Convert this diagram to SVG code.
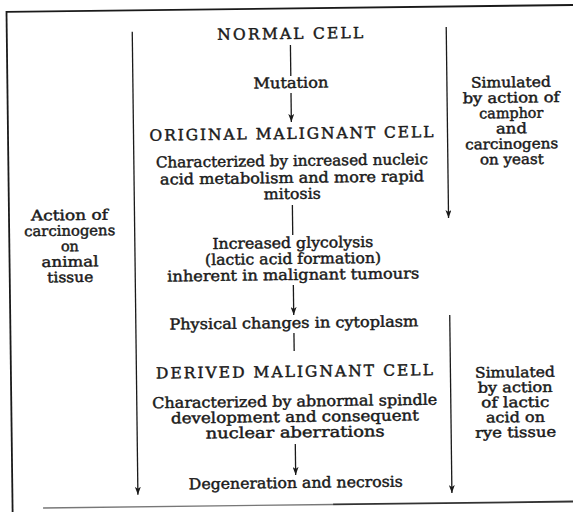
<svg xmlns="http://www.w3.org/2000/svg" width="573" height="512" viewBox="0 0 573 512">
<defs>
<marker id="ah" markerWidth="8" markerHeight="6" refX="8" refY="3" orient="auto" markerUnits="userSpaceOnUse" viewBox="0 0 8 6">
<path d="M0,0 L8,3 L0,6 L2,3 Z" fill="#1a1a1a"/>
</marker>
<style>
text{font-family:"DejaVu Serif","Liberation Serif",serif;font-size:15px;fill:#1a1a1a;text-anchor:middle;stroke:#1a1a1a;stroke-width:0.45}
.cap{font-size:15.5px}
.side{font-size:14.5px}
.frame{stroke:#1a1a1a;stroke-width:1.8;fill:none}
.ln{stroke:#1a1a1a;stroke-width:1.3;fill:none}
.arr{stroke:#1a1a1a;stroke-width:1.3;fill:none;marker-end:url(#ah)}
</style>
</defs>
<rect x="0" y="0" width="573" height="512" fill="#ffffff"/>
<g transform="rotate(-0.7 286 256)">
<g id="frame">
<line class="frame" x1="9.5" y1="8.5" x2="585" y2="8.5"/>
<line class="frame" x1="9.5" y1="7.6" x2="9.5" y2="520"/>
<line x1="40" y1="505" x2="330" y2="505" stroke="#777" stroke-width="1.4"/>
<line x1="330" y1="505" x2="585" y2="505" stroke="#333" stroke-width="1.8"/>
</g>
<g id="connectors">
<line class="ln" x1="293" y1="45" x2="293" y2="76"/>
<line class="arr" x1="293" y1="93" x2="293" y2="122"/>
<line class="ln" x1="293" y1="205" x2="293" y2="235"/>
<line class="arr" x1="293" y1="285" x2="293" y2="315"/>
<line class="ln" x1="293" y1="333" x2="293" y2="351"/>
<line class="arr" x1="293" y1="444" x2="293" y2="475"/>
<line class="arr" x1="135" y1="30" x2="135" y2="493"/>
<line class="arr" x1="449" y1="29" x2="449" y2="220"/>
<line class="arr" x1="449" y1="317" x2="449" y2="495"/>
</g>
<g id="normal-cell"><text class="cap" x="293" y="39" textLength="146" lengthAdjust="spacing">NORMAL CELL</text></g>
<g id="mutation"><text x="293" y="88" textLength="75" lengthAdjust="spacingAndGlyphs">Mutation</text></g>
<g id="original-malignant-cell">
<text class="cap" x="293" y="139" textLength="284" lengthAdjust="spacing">ORIGINAL MALIGNANT CELL</text>
<text x="293" y="166" textLength="272" lengthAdjust="spacingAndGlyphs">Characterized by increased nucleic</text>
<text x="293" y="183" textLength="264" lengthAdjust="spacingAndGlyphs">acid metabolism and more rapid</text>
<text x="293" y="199" textLength="57" lengthAdjust="spacingAndGlyphs">mitosis</text>
</g>
<g id="glycolysis">
<text x="293" y="248" textLength="161" lengthAdjust="spacingAndGlyphs">Increased glycolysis</text>
<text x="293" y="264" textLength="176" lengthAdjust="spacingAndGlyphs">(lactic acid formation)</text>
<text x="293" y="280" textLength="252" lengthAdjust="spacingAndGlyphs">inherent in malignant tumours</text>
</g>
<g id="physical-changes"><text x="293" y="328" textLength="249" lengthAdjust="spacingAndGlyphs">Physical changes in cytoplasm</text></g>
<g id="derived-malignant-cell">
<text class="cap" x="293" y="377" textLength="277" lengthAdjust="spacing">DERIVED MALIGNANT CELL</text>
<text x="293" y="406.5" textLength="285" lengthAdjust="spacingAndGlyphs">Characterized by abnormal spindle</text>
<text x="293" y="422" textLength="248" lengthAdjust="spacingAndGlyphs">development and consequent</text>
<text x="293" y="437.5" textLength="179" lengthAdjust="spacingAndGlyphs">nuclear aberrations</text>
</g>
<g id="degeneration"><text x="293" y="488" textLength="214" lengthAdjust="spacingAndGlyphs">Degeneration and necrosis</text></g>
<g id="action-carcinogens">
<text class="side" x="70" y="217.5" textLength="77" lengthAdjust="spacingAndGlyphs">Action of</text>
<text class="side" x="70" y="233" textLength="91" lengthAdjust="spacingAndGlyphs">carcinogens</text>
<text class="side" x="70" y="248.5">on</text>
<text class="side" x="70" y="264" textLength="57" lengthAdjust="spacingAndGlyphs">animal</text>
<text class="side" x="70" y="279.5" textLength="46" lengthAdjust="spacingAndGlyphs">tissue</text>
</g>
<g id="simulated-yeast">
<text class="side" x="513" y="90" textLength="80" lengthAdjust="spacingAndGlyphs">Simulated</text>
<text class="side" x="513" y="105.4" textLength="97" lengthAdjust="spacingAndGlyphs">by action of</text>
<text class="side" x="513" y="120.8" textLength="64" lengthAdjust="spacingAndGlyphs">camphor</text>
<text class="side" x="513" y="136.2" textLength="31" lengthAdjust="spacingAndGlyphs">and</text>
<text class="side" x="513" y="151.6" textLength="93" lengthAdjust="spacingAndGlyphs">carcinogens</text>
<text class="side" x="513" y="167" textLength="64" lengthAdjust="spacingAndGlyphs">on yeast</text>
</g>
<g id="simulated-rye">
<text class="side" x="513.5" y="380" textLength="80" lengthAdjust="spacingAndGlyphs">Simulated</text>
<text class="side" x="513.5" y="395" textLength="75" lengthAdjust="spacingAndGlyphs">by action</text>
<text class="side" x="513.5" y="410" textLength="68" lengthAdjust="spacingAndGlyphs">of lactic</text>
<text class="side" x="513.5" y="425" textLength="59" lengthAdjust="spacingAndGlyphs">acid on</text>
<text class="side" x="513.5" y="440" textLength="81" lengthAdjust="spacingAndGlyphs">rye tissue</text>
</g>
</g>
</svg>
